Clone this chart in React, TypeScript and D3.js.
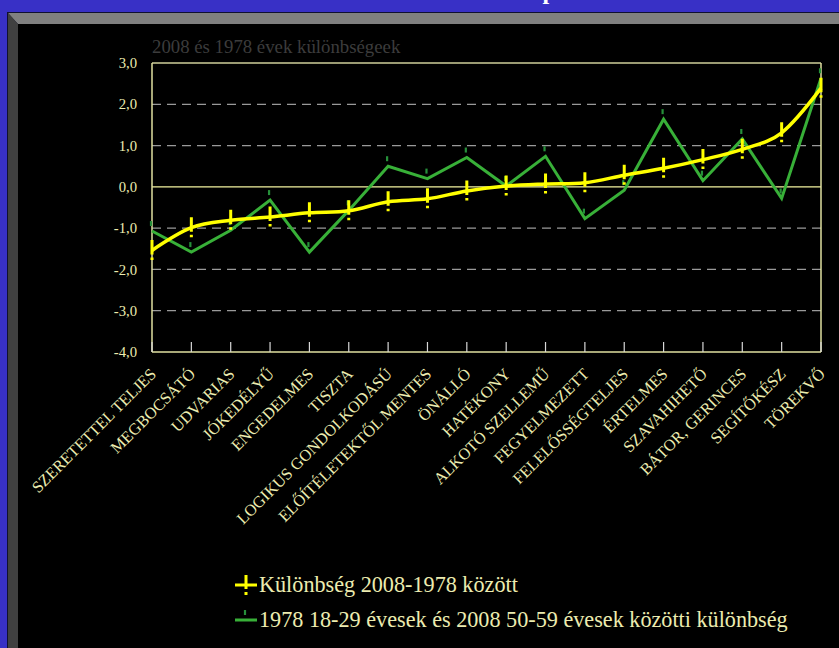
import React from "react";
import * as d3 from "d3";

const categories = [
  "SZERETETTEL TELJES",
  "MEGBOCSÁTÓ",
  "UDVARIAS",
  "JÓKEDÉLYŰ",
  "ENGEDELMES",
  "TISZTA",
  "LOGIKUS GONDOLKODÁSÚ",
  "ELŐÍTÉLETEKTŐL MENTES",
  "ÖNÁLLÓ",
  "HATÉKONY",
  "ALKOTÓ SZELLEMŰ",
  "FEGYELMEZETT",
  "FELELŐSSÉGTELJES",
  "ÉRTELMES",
  "SZAVAHIHETŐ",
  "BÁTOR, GERINCES",
  "SEGÍTŐKÉSZ",
  "TÖREKVŐ",
];

const diff2008vs1978 = [
  -1.54, -0.99, -0.81, -0.73, -0.63, -0.58, -0.36, -0.29, -0.1, 0.02, 0.07,
  0.1, 0.28, 0.45, 0.66, 0.91, 1.31, 2.39,
];

const ageGroupDiff = [
  -1.07, -1.58, -1.05, -0.32, -1.58, -0.57, 0.5, 0.2, 0.71, 0.02, 0.74, -0.77,
  -0.08, 1.64, 0.15, 1.16, -0.28, 2.63,
];

const yTicks = [-4, -3, -2, -1, 0, 1, 2, 3];
const gridTicks = [-3, -2, -1, 1, 2];

const seriesNames = [
  "Különbség 2008-1978 között",
  "1978 18-29 évesek és 2008 50-59 évesek közötti különbség",
];
const subtitle = "2008 és 1978 évek különbségeek";
const title = "Az 1978-as és a 2008-as évesek preferenciáinak változása";

const W = 839;
const H = 648;
const TEXT = "#ececb0";
const SERIF = "'Liberation Serif', 'Times New Roman', serif";

export default function App() {
  const x = d3.scalePoint<string>().domain(categories).range([152, 821]);
  const y = d3.scaleLinear().domain([-4, 3]).range([352, 63]);
  const fmt = (v: number) => d3.format(".1f")(v).replace(".", ",").replace("−", "-");

  const yellowLine = d3
    .line<number>()
    .x((_, i) => x(categories[i]) as number)
    .y((d) => y(d))
    .curve(d3.curveCardinal.tension(0));
  const greenLine = d3
    .line<number>()
    .x((_, i) => x(categories[i]) as number)
    .y((d) => y(d));

  const [x0, x1] = x.range();
  const yTop = y(3);
  const yBot = y(-4);

  return (
    <svg
      width={W}
      height={H}
      style={{ position: "fixed", left: 0, top: 0, display: "block" }}
      fontFamily={SERIF}
    >
      <rect x={0} y={0} width={W} height={H} fill="#3830c6" />
      <text x={515} y={-1} fill="#ffffff" fontSize={24} fontWeight="bold" textAnchor="middle">
        {title}
      </text>
      {/* frame */}
      <rect x={7} y={12} width={W - 7} height={H - 12} fill="#101030" />
      <polygon points={`8,13 ${W},13 ${W},24 18,24`} fill="#808080" />
      <polygon points={`8,13 18,24 18,${H} 8,${H}`} fill="#404040" />
      <rect x={18} y={24} width={W - 18} height={H - 24} fill="#000000" />

      <text x={152} y={53} fill="#3c3c3c" fontSize={18.8}>
        {subtitle}
      </text>

      {/* grid */}
      {gridTicks.map((t) => (
        <line
          key={"g" + t}
          x1={x0}
          x2={x1}
          y1={y(t)}
          y2={y(t)}
          stroke="#9a9a9a"
          strokeWidth={1.2}
          strokeDasharray="9,6"
        />
      ))}
      <line x1={x0} x2={x1} y1={yTop} y2={yTop} stroke="#cfcf9a" strokeWidth={1.5} />
      <line x1={x0} x2={x1} y1={y(0)} y2={y(0)} stroke="#f4f4a0" strokeWidth={1.2} />
      <line x1={x0} x2={x1} y1={yBot} y2={yBot} stroke="#e0e0a0" strokeWidth={1.5} />
      <line x1={x0} x2={x0} y1={yTop} y2={yBot} stroke="#e0e0a0" strokeWidth={1.5} />
      <line x1={x1} x2={x1} y1={yTop} y2={yBot} stroke="#e0e0a0" strokeWidth={1.5} />

      {/* x ticks */}
      {categories.map((c) => (
        <line
          key={"t" + c}
          x1={x(c)}
          x2={x(c)}
          y1={yBot}
          y2={yBot - 10}
          stroke="#d8d8d8"
          strokeWidth={1.2}
        />
      ))}

      {/* y labels */}
      {yTicks.map((t) => (
        <text
          key={"y" + t}
          x={137}
          y={y(t)}
          dy="0.35em"
          textAnchor="end"
          fill={TEXT}
          fontSize={14.7}
        >
          {fmt(t)}
        </text>
      ))}

      {/* x labels */}
      {categories.map((c) => (
        <text
          key={"l" + c}
          transform={`translate(${(x(c) as number) + 1},${371}) rotate(-45)`}
          textAnchor="end"
          dy="0.35em"
          fill={TEXT}
          fontSize={16.3}
        >
          {c}
        </text>
      ))}

      {/* green series */}
      <path d={greenLine(ageGroupDiff) || ""} fill="none" stroke="#38b038" strokeWidth={3} strokeLinejoin="miter" />
      {ageGroupDiff.map((v, i) => (
        <line
          key={"gm" + i}
          x1={(x(categories[i]) as number) - 1}
          x2={(x(categories[i]) as number) - 1}
          y1={y(v) - 10}
          y2={y(v) - 5}
          stroke="#26903a"
          strokeWidth={2.2}
        />
      ))}

      {/* yellow series */}
      <path d={yellowLine(diff2008vs1978) || ""} fill="none" stroke="#ffff00" strokeWidth={3.5} />
      {diff2008vs1978.map((v, i) => (
        <line
          key={"ym" + i}
          x1={x(categories[i])}
          x2={x(categories[i])}
          y1={y(v) - 10.5}
          y2={y(v) + 9.5}
          stroke="#ffff00"
          strokeWidth={3}
          strokeDasharray="14.5,3,2.8"
        />
      ))}

      {/* legend */}
      <line x1={235} x2={257} y1={585} y2={585} stroke="#ffff00" strokeWidth={3} />
      <line x1={246} x2={246} y1={575} y2={595} stroke="#ffff00" strokeWidth={3} strokeDasharray="14,3,3" />
      <text x={259} y={592} fill={TEXT} fontSize={22.2}>
        {seriesNames[0]}
      </text>
      <line x1={235} x2={257} y1={620} y2={620} stroke="#38b038" strokeWidth={3} />
      <line x1={245} x2={245} y1={610} y2={615} stroke="#26903a" strokeWidth={2.2} />
      <text x={259} y={627} fill={TEXT} fontSize={22.2}>
        {seriesNames[1]}
      </text>
    </svg>
  );
}
